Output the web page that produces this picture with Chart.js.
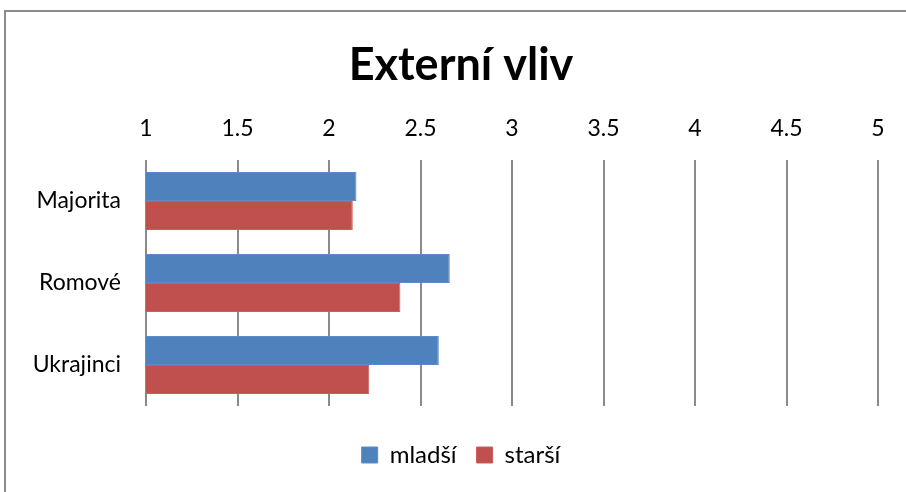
<!DOCTYPE html>
<html>
<head>
<meta charset="utf-8">
<script src="https://cdn.jsdelivr.net/npm/chart.js@4"></script>
<style>
    body { margin: 0; background: #fff; }
    #ramecek { position: absolute; left: 4px; top: 10px; width: 920px; height: 500px; border: 2px solid #8a8a8a; box-sizing: border-box; }
    #graf { position: absolute; left: 0; top: 0; }
</style>
</head>
<body>
<div id="ramecek"></div>
<canvas id="graf" width="906" height="492"></canvas>
<script>
// Data grafu
const kategorie = ['Majorita', 'Romové', 'Ukrajinci'];
const mladsi = [2.15, 2.66, 2.60];
const starsi = [2.13, 2.39, 2.22];
const nazvySerii = ['mladší', 'starší'];

const pismo = 'Lato, "Open Sans", sans-serif';

new Chart(document.getElementById('graf').getContext('2d'), {
    type: 'bar',
    data: {
        labels: kategorie,
        datasets: [
            { label: nazvySerii[0], data: mladsi, backgroundColor: '#4F81BD', borderColor: '#5B8BC6', borderWidth: 1 },
            { label: nazvySerii[1], data: starsi, backgroundColor: '#C0504D', borderColor: '#CB5E5B', borderWidth: 1 }
        ]
    },
    options: {
        indexAxis: 'y',
        responsive: false,
        animation: false,
        categoryPercentage: 0.71,
        barPercentage: 1,
        layout: { padding: { left: 16, right: 0, top: 0, bottom: 15 } },
        scales: {
            x: {
                position: 'top',
                min: 1,
                max: 5,
                ticks: {
                    stepSize: 0.5, color: '#000', padding: 18,
                    font: { family: pismo, size: 23 },
                    callback: (v) => String(v)
                },
                grid: { color: '#8a8a8a', lineWidth: 2, drawTicks: false },
                border: { display: false },
                afterFit: (scale) => { scale.height = 68; scale.paddingRight = 28; }
            },
            y: {
                ticks: { color: '#000', padding: 25, font: { family: pismo, size: 23 } },
                grid: { display: false, drawTicks: false },
                border: { display: false },
                afterFit: (scale) => { scale.width = 130; }
            }
        },
        plugins: {
            title: {
                display: true,
                text: 'Externí vliv',
                color: '#000',
                font: { family: pismo, size: 45, weight: 'bold' },
                padding: { top: 38, bottom: 0 }
            },
            legend: {
                position: 'bottom',
                title: { display: true, text: ' ', font: { size: 10 }, padding: { top: 5, bottom: 0 } },
                labels: {
                    color: '#000',
                    boxWidth: 16,
                    boxHeight: 16,
                    padding: 20,
                    font: { family: pismo, size: 24 }
                }
            },
            tooltip: { enabled: false }
        }
    }
});
</script>
</body>
</html>
